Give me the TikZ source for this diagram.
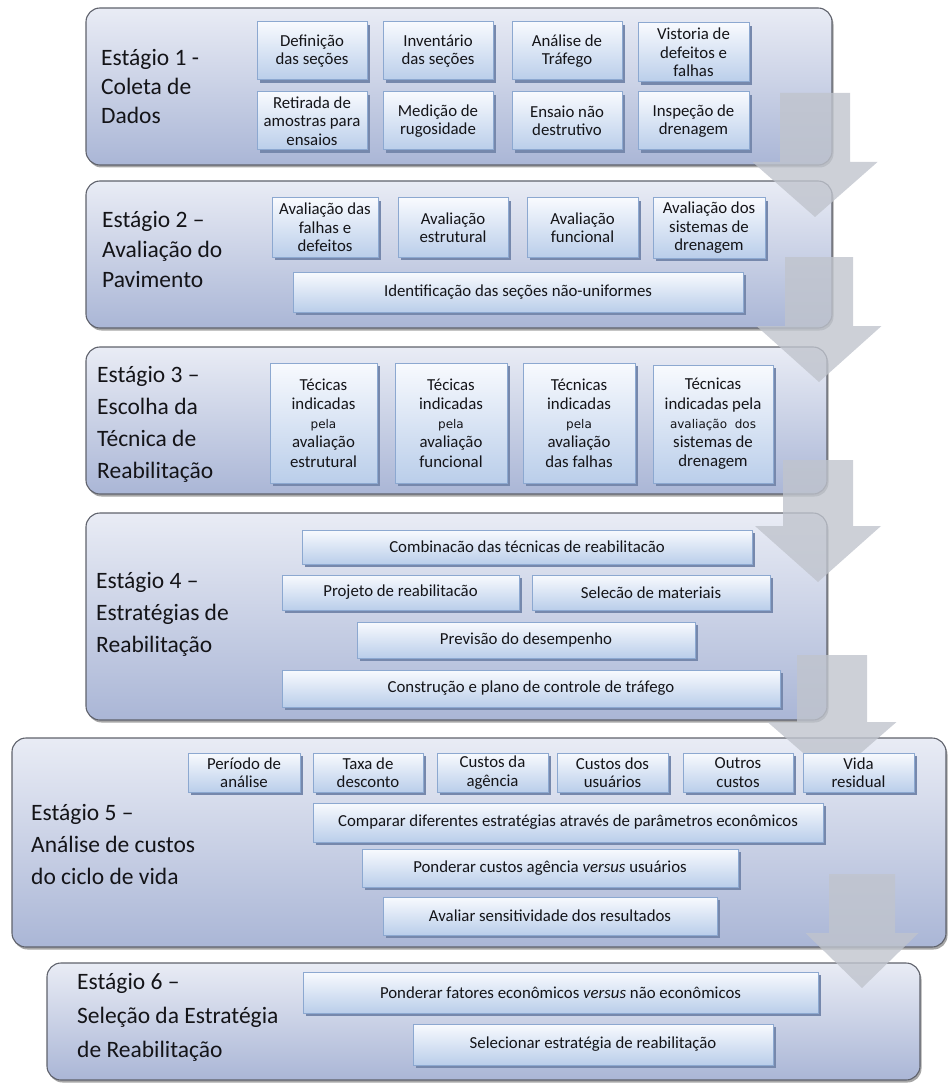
\documentclass[tikz,border=0pt]{standalone}
\usepackage{fontspec}
\setmainfont{Carlito}
\newfontfamily\tahomalike{DejaVu Sans}
\usetikzlibrary{shadows}

\definecolor{stagetop}{RGB}{233,236,245}
\definecolor{stagebot}{RGB}{170,182,214}
\definecolor{stageline}{RGB}{95,98,108}
\definecolor{boxtop}{RGB}{248,250,254}
\definecolor{boxbot}{RGB}{186,206,234}
\definecolor{boxline}{RGB}{140,168,208}
\definecolor{boxshadow}{RGB}{118,136,172}
\definecolor{arrowgray}{RGB}{192,196,205}
\definecolor{ink}{RGB}{20,20,24}

\tikzset{
  stagebox/.style={draw=stageline, line width=1.1pt, rounded corners=14pt,
    top color=stagetop, bottom color=stagebot, inner sep=0pt,
    drop shadow={shadow xshift=1.5pt, shadow yshift=-2.5pt, fill=black, opacity=0.35}},
  innerbox/.style={draw=boxline, line width=1pt, top color=boxtop, bottom color=boxbot,
    inner sep=0pt, align=center, text=ink,
    font=\fontsize{16.8}{18.5}\selectfont,
    drop shadow={shadow xshift=2.5pt, shadow yshift=-3pt, fill=boxshadow, opacity=1}},
  stagelabel/.style={anchor=west, align=left, text=ink, inner sep=0pt},
  flowarrow/.style={fill=arrowgray, fill opacity=0.8},
}

% stage frame: name, x1, y1, x2, y2
\newcommand\stageframe[5]{%
  \node[stagebox, minimum width={#4-#2}, minimum height={#5-#3}] (#1)
    at ({(#2+#4)/2},{(#3+#5)/2}) {};}
% content box: name, x1, y1, x2, y2, text
\newcommand\pbox[6]{%
  \node[innerbox, minimum width={#4-#2}, minimum height={#5-#3}] (#1)
    at ({(#2+#4)/2},{(#3+#5)/2}) {#6};}
% block arrow: centre x, top, head base, tip, shaft width, head width
\newcommand\flowarrow[6]{%
  \fill[flowarrow] ({#1-#5/2},#2) -- ({#1+#5/2},#2) -- ({#1+#5/2},#3) --
    ({#1+#6/2},#3) -- (#1,#4) -- ({#1-#6/2},#3) -- ({#1-#5/2},#3) -- cycle;}
\newcommand\smallsans[1]{{\tahomalike\fontsize{12}{19}\selectfont #1}}

\begin{document}
\begin{tikzpicture}[x=1pt, y=-1pt]
\useasboundingbox (0,0) rectangle (948,1083);

% stage frames
\stageframe{s1}{86}{8}{832}{165}
\stageframe{s2}{86}{181}{832}{328}
\stageframe{s3}{86}{347}{827}{494}
\stageframe{s4}{86}{513}{827}{720}
\stageframe{s5}{12}{738}{946}{947}
\stageframe{s6}{47}{963}{920}{1080}

% stage titles
\node[stagelabel, font=\fontsize{23.5}{29}\selectfont] (l1) at (101,87)
  {Estágio 1 -\\Coleta de\\Dados};
\node[stagelabel, font=\fontsize{23.5}{30}\selectfont] (l2) at (102,250)
  {Estágio 2 –\\Avaliação do\\Pavimento};
\node[stagelabel, font=\fontsize{23.5}{32}\selectfont] (l3) at (97,424)
  {Estágio 3 –\\Escolha da\\Técnica de\\Reabilitação};
\node[stagelabel, font=\fontsize{23.5}{32}\selectfont] (l4) at (96,614)
  {Estágio 4 –\\Estratégias de\\Reabilitação};
\node[stagelabel, font=\fontsize{23.5}{32}\selectfont] (l5) at (31,844)
  {Estágio 5 –\\Análise de custos\\do ciclo de vida};
\node[stagelabel, font=\fontsize{23.5}{34}\selectfont] (l6) at (77,1017)
  {Estágio 6 –\\Seleção da Estratégia\\de Reabilitação};

% flow arrows between stages
\flowarrow{815}{93}{162}{217}{70}{125}
\flowarrow{819}{257}{326}{382}{68}{125}
\flowarrow{818}{460}{526}{582}{70}{126}
\flowarrow{832}{655}{722}{778}{70}{129}
\flowarrow{862}{874}{933}{988}{66}{113}

% stage 1
\pbox{d1}{257}{22}{367}{80}{Definição\\das seções}
\pbox{d2}{383}{22}{493}{80}{Inventário\\das seções}
\pbox{d3}{512}{22}{622}{80}{Análise de\\Tráfego}
\pbox{d4}{638}{23}{749}{82}{Vistoria de\\defeitos e\\falhas}
\pbox{d5}{257}{92}{367}{150}{Retirada de\\amostras para\\ensaios}
\pbox{d6}{383}{92}{493}{150}{Medição de\\rugosidade}
\pbox{d7}{512}{92}{622}{150}{Ensaio não\\destrutivo}
\pbox{d8}{638}{92}{749}{150}{Inspeção de\\drenagem}

% stage 2
\pbox{a1}{272}{198}{378}{257}{Avaliação das\\falhas e\\defeitos}
\pbox{a2}{398}{198}{508}{257}{Avaliação\\estrutural}
\pbox{a3}{527}{198}{638}{257}{Avaliação\\funcional}
\pbox{a4}{653}{198}{765}{258}{Avaliação dos\\sistemas de\\drenagem}
\pbox{a5}{293}{272}{743}{312}{Identificação das seções não-uniformes}

% stage 3
\tikzset{innerbox/.append style={font=\fontsize{16.8}{19.2}\selectfont}}
\pbox{t1}{270}{363}{377}{483}{Técicas\\indicadas\\\smallsans{pela}\\avaliação\\estrutural}
\pbox{t2}{395}{363}{507}{483}{Técicas\\indicadas\\\smallsans{pela}\\avaliação\\funcional}
\pbox{t3}{523}{363}{635}{483}{Técnicas\\indicadas\\\smallsans{pela}\\avaliação\\das falhas}
\pbox{t4}{653}{365}{773}{483}{Técnicas\\indicadas pela\\\smallsans{avaliação\ \ dos}\\sistemas de\\drenagem}
\tikzset{innerbox/.append style={font=\fontsize{16.8}{18.5}\selectfont}}

% stage 4
\pbox{c1}{302}{530}{752}{564}{Combinacão das técnicas de reabilitacão}
\pbox{c2}{282}{575}{519}{610}{Projeto de reabilitacão}
\pbox{c3}{532}{575}{770}{610}{Selecão de materiais}
\pbox{c4}{357}{622}{695}{658}{Previsão do desempenho}
\pbox{c5}{282}{670}{780}{707}{Construção e plano de controle de tráfego}

% stage 5
\pbox{e1}{188}{753}{300}{792}{Período de\\análise}
\pbox{e2}{313}{753}{423}{792}{Taxa de\\desconto}
\pbox{e3}{437}{753}{548}{792}{Custos da\\agência}
\pbox{e4}{557}{753}{668}{792}{Custos dos\\usuários}
\pbox{e5}{683}{753}{793}{792}{Outros\\custos}
\pbox{e6}{803}{753}{914}{792}{Vida\\residual}
\pbox{e7}{313}{803}{823}{842}{Comparar diferentes estratégias através de parâmetros econômicos}
\pbox{e8}{362}{849}{738}{887}{Ponderar custos agência \textit{versus} usuários}
\pbox{e9}{383}{897}{717}{935}{Avaliar sensitividade dos resultados}

% stage 6
\pbox{f1}{303}{972}{818}{1013}{Ponderar fatores econômicos \textit{versus} não econômicos}
\pbox{f2}{413}{1024}{773}{1065}{Selecionar estratégia de reabilitação}
\end{tikzpicture}
\end{document}
